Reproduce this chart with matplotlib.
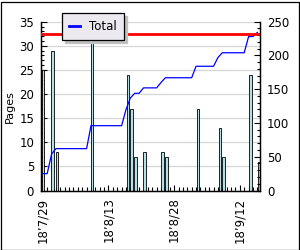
import matplotlib
matplotlib.use("Agg")
import matplotlib.pyplot as plt
import matplotlib.dates as mdates
from matplotlib.ticker import MultipleLocator, FixedLocator, FixedFormatter
from matplotlib.lines import Line2D
from matplotlib.patches import Rectangle
import pandas as pd

# ---- data ----
read_times = ["2018-07-29 00:00", "2018-07-31 05:00", "2018-08-01 05:00",
              "2018-08-09 05:00", "2018-08-17 10:00", "2018-08-18 07:00",
              "2018-08-19 05:00", "2018-08-21 05:00", "2018-08-25 07:00",
              "2018-08-26 05:00", "2018-09-02 10:00", "2018-09-07 10:00",
              "2018-09-08 05:00", "2018-09-14 10:00", "2018-09-16 10:00"]
pages = [25, 29, 8, 34, 24, 17, 7, 8, 8, 7, 17, 13, 7, 24, 6]
book_pages = 232
tick_dates = ["2018-07-29", "2018-08-13", "2018-08-28", "2018-09-12"]
tick_labels = ["18\u20197/29", "18\u20198/13", "18\u20198/28", "18\u20199/12"]

plt.rcParams['font.family'] = ['DejaVu Sans']

times = pd.to_datetime(read_times)
s = pd.Series(pages, index=times)
total = s.resample("D").sum().cumsum()

fig = plt.figure(figsize=(3.0, 2.5), dpi=100)
fig.patch.set_facecolor("white")
ax = fig.add_axes([41/300, 1-190.5/250, (260-41)/300, (190.5-21.7)/250])
ax2 = ax.twinx()

ax.bar(times, pages, width=0.58, color="#b4e0e8", edgecolor="black",
       linewidth=0.6, zorder=2, clip_on=True)
ax.set_ylim(0, 35)
ax.set_xlim(pd.Timestamp("2018-07-28 14:00"), pd.Timestamp("2018-09-16 14:30"))
ax.yaxis.set_major_locator(MultipleLocator(5))
ax.yaxis.set_minor_locator(MultipleLocator(1))
ax.grid(axis="y", color="#d6d6d6", linewidth=0.9, zorder=0)
ax.set_axisbelow(True)
ax.set_ylabel("Pages", fontsize=8, labelpad=3)

ax2.plot(total.index, total.values, color="#0000ff", linewidth=0.9, zorder=3)
ax2.axhline(book_pages, color="#ff0000", linewidth=2.0, zorder=4)
ax2.set_ylim(0, 250)
ax2.yaxis.set_major_locator(MultipleLocator(50))
ax2.yaxis.set_minor_locator(MultipleLocator(10))

ax.xaxis.set_major_locator(FixedLocator(mdates.date2num(pd.to_datetime(tick_dates))))
ax.xaxis.set_major_formatter(FixedFormatter(tick_labels))
ax.xaxis.set_minor_locator(mdates.DayLocator())

for a in (ax, ax2):
    a.spines["top"].set_visible(False)
    for sp in a.spines.values():
        sp.set_linewidth(0.9)
ax.tick_params(axis="y", which="major", direction="in", length=4.5, width=0.8,
               labelsize=8.5, pad=5, left=True, right=False)
ax.tick_params(axis="y", which="minor", direction="in", length=2.5, width=0.8, right=False)
ax2.tick_params(axis="y", which="major", direction="in", length=4.5, width=0.8,
                labelsize=8.5, pad=5)
ax2.tick_params(axis="y", which="minor", direction="in", length=2.5, width=0.8)
ax.tick_params(axis="x", which="major", direction="in", length=4, width=0.8,
               labelsize=8.5, pad=5, labelrotation=90)
ax.tick_params(axis="x", which="minor", direction="in", length=3, width=0.8)

handle = Line2D([], [], color="#0000ff", linewidth=2)
leg = ax2.legend([handle], ["Total"], loc="upper left",
                 bbox_to_anchor=(62/300, 1-13/250), bbox_transform=fig.transFigure,
                 borderaxespad=0, fontsize=8.5, frameon=True, fancybox=False,
                 edgecolor="black", facecolor="#eceaf0", framealpha=1,
                 handlelength=0.9, handletextpad=0.8, borderpad=0.6,
                 shadow={"color": "#c0c0c0", "alpha": 1})
leg.get_frame().set_linewidth(0.9)
leg.set_zorder(10)

fig.patches.append(Rectangle((0.5/300, 0.5/250), 1-2/300, 1-2/250,
                             transform=fig.transFigure, fill=False,
                             edgecolor="black", linewidth=0.9))

fig.savefig("out.png", dpi=100)
